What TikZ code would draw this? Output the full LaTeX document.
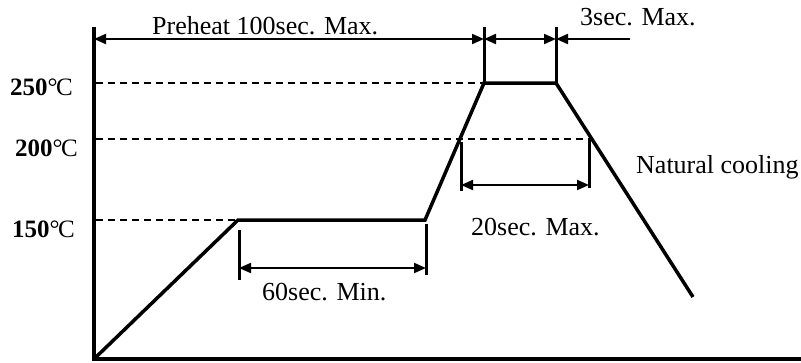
\documentclass[tikz,border=0pt]{standalone}
\usepackage{fontspec}
\setmainfont{Liberation Serif}
\usetikzlibrary{arrows.meta}
\newcommand{\degC}{\textnormal{°\kern-1.5pt C}}
\begin{document}
\begin{tikzpicture}[x=1pt,y=-1pt,
  axisline/.style={line width=4pt},
  profile/.style={line width=3.5pt,line join=miter},
  tickline/.style={line width=3pt},
  dimarrow/.style={line width=2pt,-{Triangle[length=12pt,width=10pt]}},
  dimboth/.style={line width=2pt,{Triangle[length=12pt,width=10pt]}-{Triangle[length=12pt,width=10pt]}},
  guide/.style={line width=2pt,dash pattern=on 7pt off 5pt},
  txt/.style={font=\fontsize{26}{30}\selectfont,inner sep=0pt,anchor=base west},
  lbl/.style={font=\fontsize{25}{30}\selectfont\bfseries,inner sep=0pt,anchor=base west}]
\useasboundingbox (0,0) rectangle (801,362);
% coordinates
\coordinate (O) at (94,359);
\coordinate (Ytop) at (94,27);
\coordinate (Xend) at (801,359);
\coordinate (A) at (238,220);
\coordinate (B) at (425,220);
\coordinate (C) at (484,83);
\coordinate (D) at (556,83);
\coordinate (E) at (693,297);
% axes
\draw[axisline] (Ytop) -- (94,361);
\draw[axisline] (92,359) -- (Xend);
% guides
\draw[guide] (96,83) -- (C);
\draw[guide] (96,139) -- (592,139);
\draw[guide] (96,220) -- (A);
% profile
\draw[profile] (O) -- (A) -- (B) -- (C) -- (D) -- (E);
% top ticks
\coordinate (T1) at (484,27);
\coordinate (T2) at (556,27);
\draw[tickline] (T1) -- (C);
\draw[tickline] (T2) -- (D);
\coordinate (P1) at (94,39);
\coordinate (P2) at (484,39);
\coordinate (P3) at (556,39);
\coordinate (P4) at (630,39);
\draw[dimboth] (P1) -- (P2);
\draw[dimboth] (P2) -- (P3);
\draw[dimarrow] (P4) -- (P3);
% 20 sec
\draw[tickline] (461,142) -- (461,191);
\draw[tickline] (589,139) -- (589,188);
\draw[dimboth] (461,185) -- (589,185);
% 60 sec
\draw[tickline] (239,230) -- (239,280);
\draw[tickline] (426,224) -- (426,275);
\draw[dimboth] (239,268) -- (426,268);
% texts
\node[txt] (preheat) at (152,34) {Preheat 100sec. Max.};
\node[txt] (three) at (580,25) {3sec. Max.};
\node[txt] (cool) at (636,173) {Natural cooling};
\node[txt] (twenty) at (471,235) {20sec. Max.};
\node[txt] (sixty) at (262,300) {60sec. Min.};
\node[lbl] (l250) at (10,95) {250\degC};
\node[lbl] (l200) at (15,156) {200\degC};
\node[lbl] (l150) at (12,237) {150\degC};
\end{tikzpicture}
\end{document}
